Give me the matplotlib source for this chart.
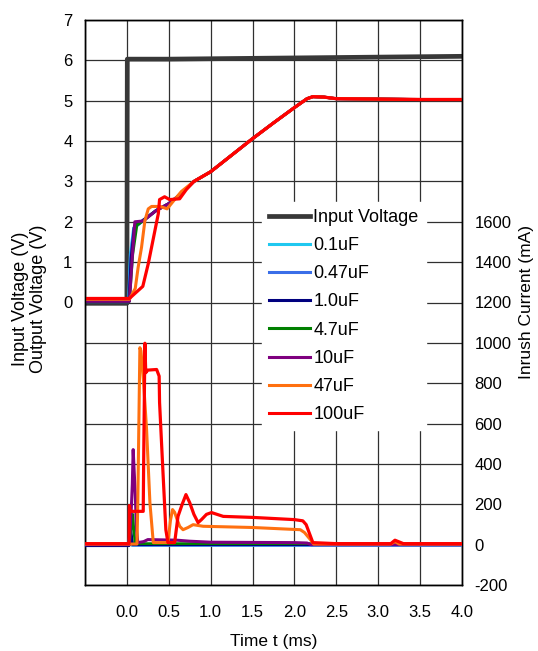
import matplotlib
matplotlib.use("Agg")
import matplotlib.pyplot as plt
from matplotlib.lines import Line2D

plt.rcParams['font.family'] = ['Liberation Sans', 'DejaVu Sans']
plt.rcParams['axes.unicode_minus'] = False

# ---------------- data ----------------
series_names = ["0.1uF", "0.47uF", "1.0uF", "4.7uF", "10uF", "47uF", "100uF"]
series_colors = ["#20c8f0", "#3a6ee8", "#00007f", "#008000", "#7f007f", "#ff7010", "#ff0000"]

# input voltage (V)
vin_t = [-0.5, 0.0, 0.005, 0.5, 1.0, 1.5, 2.0, 2.5, 3.0, 3.5, 4.0]
vin_v = [-0.02, -0.02, 6.03, 6.03, 6.04, 6.05, 6.06, 6.07, 6.08, 6.09, 6.1]

# common output voltage ramp (V) shared after start-up
ramp_t = [0.8, 1.0, 1.25, 1.5, 1.75, 2.0, 2.15, 2.22, 2.35, 2.5, 3.0, 3.5, 4.0]
ramp_v = [3.0, 3.24, 3.65, 4.06, 4.45, 4.83, 5.05, 5.1, 5.09, 5.05, 5.04, 5.03, 5.03]

# output voltage start-up portions (V)
vout_head_t = {
    "0.1uF":  [-0.5, 0.02, 0.04, 0.08, 0.15, 0.2, 0.35, 0.5, 0.65],
    "0.47uF": [-0.5, 0.02, 0.045, 0.085, 0.15, 0.2, 0.35, 0.5, 0.65],
    "1.0uF":  [-0.5, 0.025, 0.05, 0.09, 0.15, 0.2, 0.35, 0.5, 0.65],
    "4.7uF":  [-0.5, 0.03, 0.07, 0.12, 0.2, 0.35, 0.5, 0.65],
    "10uF":   [-0.5, 0.03, 0.06, 0.095, 0.195, 0.35, 0.5, 0.65],
    "47uF":   [-0.5, 0.03, 0.1, 0.135, 0.175, 0.215, 0.255, 0.295, 0.4, 0.48, 0.55, 0.65],
    "100uF":  [-0.5, 0.03, 0.19, 0.255, 0.375, 0.39, 0.45, 0.51, 0.63, 0.71],
}
vout_head_v = {
    "0.1uF":  [0.02, 0.02, 1.2, 1.85, 1.95, 2.05, 2.28, 2.45, 2.7],
    "0.47uF": [0.02, 0.02, 1.15, 1.85, 1.95, 2.05, 2.28, 2.45, 2.7],
    "1.0uF":  [0.02, 0.02, 1.1, 1.9, 1.97, 2.05, 2.28, 2.45, 2.7],
    "4.7uF":  [0.03, 0.03, 1.2, 1.92, 2.03, 2.28, 2.45, 2.7],
    "10uF":   [0.03, 0.03, 1.0, 2.0, 2.02, 2.28, 2.45, 2.7],
    "47uF":   [0.08, 0.08, 0.35, 0.88, 1.37, 2.03, 2.32, 2.38, 2.38, 2.32, 2.5, 2.75],
    "100uF":  [0.1, 0.1, 0.4, 0.96, 2.2, 2.55, 2.62, 2.55, 2.57, 2.8],
}

# inrush current (mA)
cur_t = {
    "0.1uF":  [-0.5, 0.02, 0.035, 0.045, 0.06, 4.0],
    "0.47uF": [-0.5, 0.02, 0.035, 0.045, 0.065, 4.0],
    "1.0uF":  [-0.5, 0.025, 0.04, 0.05, 0.07, 4.0],
    "4.7uF":  [-0.5, 0.03, 0.06, 0.07, 0.085, 0.1, 2.1, 4.0],
    "10uF":   [-0.5, 0.03, 0.056, 0.065, 0.075, 0.085, 0.1, 0.115, 0.13, 0.2, 0.25, 0.6,
               0.75, 1.0, 2.0, 2.15, 2.2, 4.0],
    "47uF":   [-0.5, 0.12, 0.13, 0.155, 0.168, 0.2, 0.235, 0.275, 0.315, 0.49, 0.52, 0.545,
               0.57, 0.6, 0.63, 0.67, 0.73, 0.79, 0.91, 1.5, 2.07, 2.12, 2.19, 2.23, 3.15,
               3.2, 3.25, 4.0],
    "100uF":  [-0.5, 0.025, 0.03, 0.04, 0.195, 0.2, 0.215, 0.225, 0.25, 0.355, 0.385, 0.39,
               0.425, 0.465, 0.49, 0.57, 0.61, 0.66, 0.705, 0.75, 0.8, 0.85, 0.89, 0.95,
               1.01, 1.15, 1.5, 2.0, 2.1, 2.14, 2.22, 2.5, 3.15, 3.2, 3.3, 4.0],
}
cur_i = {
    "0.1uF":  [-5, -5, 30, 20, -3, -3],
    "0.47uF": [-5, -5, 60, 40, -3, -3],
    "1.0uF":  [-5, -5, 90, 60, 0, 0],
    "4.7uF":  [0, 0, 120, 150, 60, 5, 5, 3],
    "10uF":   [0, 0, 208, 300, 471, 380, 250, 74, 10, 15, 25, 22, 17, 12, 10, 8, 0, 0],
    "47uF":   [3, 3, 200, 976, 960, 800, 571, 207, 10, 10, 120, 174, 160, 124, 91, 74, 85,
               99, 91, 85, 74, 60, 25, 3, 3, 15, 3, 3],
    "100uF":  [5, 5, 194, 165, 165, 400, 998, 852, 865, 868, 835, 705, 407, 74, 10, 10, 140,
               200, 248, 208, 150, 109, 124, 150, 159, 140, 135, 124, 118, 99, 10, 5, 5, 22,
               5, 5],
}

volt_ticks = list(range(-7, 8))
volt_ticklabels = [str(v) if v >= 0 else "" for v in volt_ticks]
cur_ticks = list(range(-200, 1601, 200))
x_ticks = [-0.5, 0.0, 0.5, 1.0, 1.5, 2.0, 2.5, 3.0, 3.5, 4.0]
x_ticklabels = [""] + ["%.1f" % x for x in x_ticks[1:]]

# ---------------- figure ----------------
fig = plt.figure(figsize=(5.38, 6.51), dpi=100)
ax = fig.add_axes([85 / 538, 1 - 585 / 651, 377 / 538, 565 / 651])
ax2 = ax.twinx()

ax.set_xlim(-0.5, 4.0)
ax.set_ylim(-7, 7)
ax2.set_ylim(-200, 2600)

ax.grid(True, color="#303030", lw=0.9)
ax.set_axisbelow(True)

widths = {"0.1uF": 2.0, "0.47uF": 2.0, "1.0uF": 2.0, "4.7uF": 2.0, "10uF": 2.2,
          "47uF": 2.2, "100uF": 2.3}

ax.plot(vin_t, vin_v, color="#383838", lw=3.4, zorder=2)
for name, col in zip(series_names, series_colors):
    t = vout_head_t[name] + ramp_t
    v = vout_head_v[name] + ramp_v
    ax.plot(t, v, color=col, lw=widths[name], zorder=3)
    ax2.plot(cur_t[name], cur_i[name], color=col, lw=widths[name], zorder=3)

ax.set_xticks(x_ticks)
ax.set_xticklabels(x_ticklabels)
ax.set_yticks(volt_ticks)
ax.set_yticklabels(volt_ticklabels)
ax2.set_yticks(cur_ticks)

ax.tick_params(axis="both", length=0, labelsize=12)
ax.tick_params(axis="y", pad=9)
ax.tick_params(axis="x", pad=14.5)
ax2.tick_params(axis="y", length=0, labelsize=12, pad=9)

for a in (ax, ax2):
    for s in a.spines.values():
        s.set_linewidth(1.0)
        s.set_color("black")

ax.set_xlabel("Time t (ms)", fontsize=12.5, labelpad=10)
fig.text(29.5 / 538, 1 - 299 / 651, "Input Voltage (V)\nOutput Voltage (V)",
         rotation=90, ha="center", va="center", fontsize=13, linespacing=1.15)
fig.text(527 / 538, 1 - 302 / 651, "Inrush Current (mA)", rotation=90,
         ha="center", va="center", fontsize=12.5)

handles = [Line2D([], [], color="#383838", lw=3.4)] + \
          [Line2D([], [], color=c, lw=2.2) for c in series_colors]
labels = ["Input Voltage"] + series_names
leg = ax2.legend(handles, labels, loc="upper left",
                 bbox_to_anchor=(262 / 538, 1 - 202 / 651),
                 bbox_transform=fig.transFigure, frameon=True, fancybox=False,
                 framealpha=1, edgecolor="white", facecolor="white",
                 fontsize=13, handlelength=2.27, handletextpad=0.2,
                 labelspacing=0.62, borderpad=0.38, borderaxespad=0)
leg.set_zorder(10)

fig.savefig("out.png", dpi=100)
